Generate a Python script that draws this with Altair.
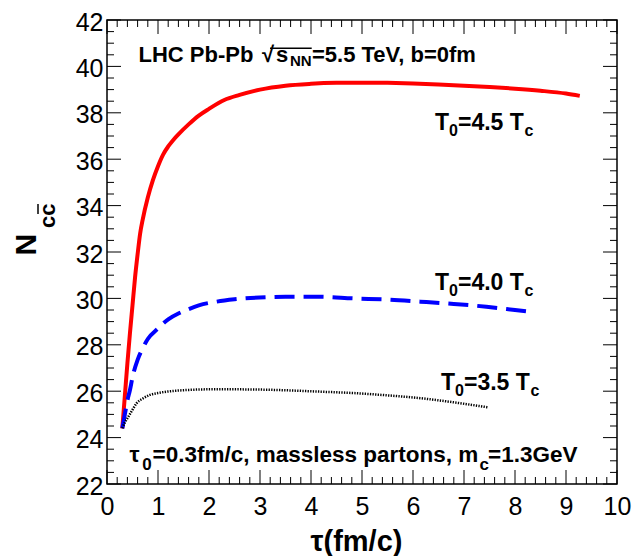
import altair as alt
import pandas as pd

# ---- curve data (tau in fm/c, N_ccbar) ----
tau_45 = [0.30, 0.35, 0.40, 0.45, 0.50, 0.55, 0.60, 0.65, 0.70, 0.80, 0.90, 1.00, 1.10, 1.20,
          1.30, 1.40, 1.60, 1.80, 2.00, 2.30, 2.60, 3.00, 3.50, 4.00, 4.50, 5.00, 5.50, 6.00,
          6.50, 7.00, 7.50, 8.00, 8.50, 9.00, 9.27]
n_45 = [24.4, 25.8, 27.2, 28.5, 29.7, 30.9, 31.9, 32.8, 33.4, 34.35, 35.1, 35.7, 36.2, 36.55,
        36.83, 37.07, 37.5, 37.88, 38.17, 38.55, 38.77, 39.0, 39.17, 39.25, 39.29, 39.3, 39.29,
        39.26, 39.22, 39.17, 39.11, 39.04, 38.95, 38.83, 38.73]

tau_40 = [0.30, 0.35, 0.40, 0.45, 0.50, 0.60, 0.70, 0.80, 1.00, 1.20, 1.40, 1.56, 1.80, 2.15,
          2.50, 3.13, 3.50, 4.18, 4.83, 5.50, 6.14, 6.80, 7.44, 8.00, 8.39]
n_40 = [24.4, 25.0, 25.6, 26.05, 26.6, 27.35, 27.85, 28.25, 28.7, 29.1, 29.35, 29.5, 29.7, 29.86,
        29.96, 30.05, 30.07, 30.07, 30.0, 29.95, 29.86, 29.76, 29.64, 29.5, 29.4]

tau_35 = [0.30, 0.35, 0.42, 0.50, 0.58, 0.70, 0.84, 1.00, 1.17, 1.40, 1.56, 2.00, 2.48, 3.00,
          3.50, 4.18, 4.83, 5.50, 6.14, 6.80, 7.48]
n_35 = [24.4, 24.65, 24.9, 25.2, 25.48, 25.68, 25.84, 25.92, 25.98, 26.03, 26.05, 26.08, 26.08,
        26.07, 26.04, 25.98, 25.92, 25.82, 25.7, 25.52, 25.3]

# ---- axis ticks ----
x_major = [0, 1, 2, 3, 4, 5, 6, 7, 8, 9, 10]
x_minor = [round(i * 0.2, 1) for i in range(51) if i % 5]
y_major = [22, 24, 26, 28, 30, 32, 34, 36, 38, 40, 42]
y_minor = [22 + i * 0.5 for i in range(41) if i % 4]

# ---- annotation pieces (text, x, y in data units, font size) ----
ann_text = ["LHC Pb-Pb", "\u221a", "s", "NN", "=5.5 TeV, b=0fm",
            "T", "0", "=4.5 T", "c",
            "T", "0", "=4.0 T", "c",
            "T", "0", "=3.5 T", "c",
            "\u03c4", "0", "=0.3fm/c, massless partons, m", "c", "=1.3GeV"]
ann_x = [0.618, 3.039, 3.314, 3.588, 4.02,
         6.431, 6.706, 6.882, 8.186,
         6.431, 6.706, 6.882, 8.186,
         6.549, 6.824, 7.0, 8.304,
         0.441, 0.69, 0.892, 7.304, 7.471]
ann_y = [40.203, 40.203, 40.203, 39.996, 40.203,
         37.259, 37.0, 37.259, 37.0,
         30.362, 30.10, 30.362, 30.10,
         26.052, 25.79, 26.052, 25.79,
         22.961, 22.62, 22.961, 22.62, 22.961]
ann_size = [22, 22, 22, 15, 22,
            23, 16, 23, 16,
            23, 16, 23, 16,
            23, 16, 23, 16,
            22.5, 17, 22.5, 17, 22.5]

# overline of the square root
sqrt_bar_x = [3.196]
sqrt_bar_x2 = [4.014]
sqrt_bar_y = [40.78]

FONT = "Liberation Sans"
W, H = 510, 464
TICK_MAJ, TICK_MIN = 14, 7

xscale = alt.Scale(domain=[0, 10], nice=False, zero=False)
yscale = alt.Scale(domain=[22, 42], nice=False, zero=False)

x_axis = alt.Axis(values=x_major, format="d", labelFontSize=25, labelFont=FONT,
                  labelColor="black", labelPadding=10, labelFlush=False, labelOverlap=False,
                  ticks=False, tickSize=0, domain=False, grid=False,
                  title="\u03c4(fm/c)", titleFont=FONT, titleFontSize=29, titleFontWeight="bold",
                  titleColor="black", titleX=249, titleY=66, titleAlign="center",
                  titleBaseline="alphabetic")
y_axis = alt.Axis(values=y_major, format="d", labelFontSize=25, labelFont=FONT,
                  labelColor="black", labelPadding=4, labelOffset=2, labelFlush=False,
                  labelOverlap=False, ticks=False, tickSize=0, domain=False, grid=False,
                  title="N", titleFont=FONT, titleFontSize=30, titleFontWeight="bold",
                  titleColor="black", titleAngle=270, titleX=-72, titleY=235,
                  titleAlign="left", titleBaseline="alphabetic")


def X(field):
    return alt.X(field, scale=xscale, axis=x_axis)


def Y(field):
    return alt.Y(field, scale=yscale, axis=y_axis)


df45 = pd.DataFrame({"tau": tau_45, "n": n_45})
df40 = pd.DataFrame({"tau": tau_40, "n": n_40})
df35 = pd.DataFrame({"tau": tau_35, "n": n_35})

red = alt.Chart(df45).mark_line(color="#ff0000", strokeWidth=4, interpolate="monotone").encode(
    x=X("tau:Q"), y=Y("n:Q"), order="tau:Q")
blue = alt.Chart(df40).mark_line(color="#0000ff", strokeWidth=4, strokeDash=[20, 9],
                                 interpolate="monotone").encode(
    x=X("tau:Q"), y=Y("n:Q"), order="tau:Q")
black = alt.Chart(df35).mark_line(color="black", strokeWidth=2.5, strokeDash=[1.3, 1.3],
                                  interpolate="monotone").encode(
    x=X("tau:Q"), y=Y("n:Q"), order="tau:Q")


def xticks(vals, length):
    d = pd.DataFrame({"v": vals})
    bot = alt.Chart(d).mark_rule(color="black", strokeWidth=1).encode(
        x=X("v:Q"), y=alt.value(H), y2=alt.value(H - length))
    top = alt.Chart(d).mark_rule(color="black", strokeWidth=1).encode(
        x=X("v:Q"), y=alt.value(0), y2=alt.value(length))
    return [bot, top]


def yticks(vals, length):
    d = pd.DataFrame({"v": vals})
    left = alt.Chart(d).mark_rule(color="black", strokeWidth=1).encode(
        y=Y("v:Q"), x=alt.value(0), x2=alt.value(length))
    right = alt.Chart(d).mark_rule(color="black", strokeWidth=1).encode(
        y=Y("v:Q"), x=alt.value(W), x2=alt.value(W - length))
    return [left, right]


ann_df = pd.DataFrame({"t": ann_text, "x": ann_x, "y": ann_y, "s": ann_size})
ann = alt.Chart(ann_df).mark_text(font=FONT, fontWeight="bold", align="left",
                                  baseline="alphabetic", color="black").encode(
    x=X("x:Q"), y=Y("y:Q"), text="t:N",
    size=alt.Size("s:Q", scale=None, legend=None))

bar_df = pd.DataFrame({"x": sqrt_bar_x, "x2": sqrt_bar_x2, "y": sqrt_bar_y})
sqrt_bar = alt.Chart(bar_df).mark_rule(color="black", strokeWidth=1.5).encode(
    x=X("x:Q"), x2="x2:Q", y=Y("y:Q"))

# subscript of the y title (c c-bar), rotated
ysub = alt.Chart(pd.DataFrame({"t": ["cc"]})).mark_text(
    font=FONT, fontWeight="bold", fontSize=22, angle=270, align="left",
    baseline="alphabetic", color="black").encode(
    text="t:N", x=alt.value(-52), y=alt.value(208))
ybar = alt.Chart(pd.DataFrame({"t": ["bar"]})).mark_rule(color="black", strokeWidth=1.5).encode(
    x=alt.value(-69), y=alt.value(184), y2=alt.value(194))

layers = [red, blue, black] + xticks(x_major, TICK_MAJ) + xticks(x_minor, TICK_MIN) \
    + yticks(y_major, TICK_MAJ) + yticks(y_minor, TICK_MIN) + [ann, sqrt_bar, ysub, ybar]

chart = alt.layer(*layers).properties(
    width=W, height=H,
    autosize=alt.AutoSizeParams(type="none"),
    padding={"left": 107, "top": 20, "right": 17, "bottom": 72},
    background="white",
).configure_view(stroke="black", strokeWidth=1.5)

chart.save("out.html", embed_options={"renderer": "svg", "actions": False})
